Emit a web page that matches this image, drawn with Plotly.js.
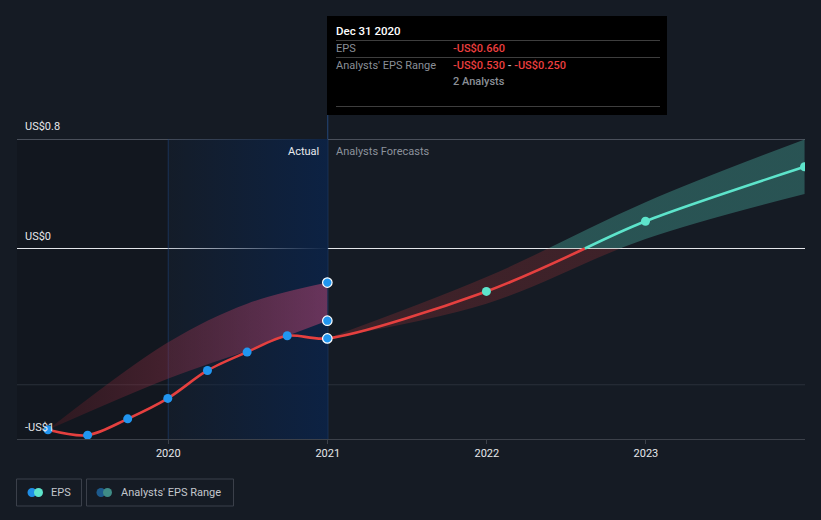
<!DOCTYPE html>
<html>
<head>
<meta charset="utf-8">
<script src="https://cdn.plot.ly/plotly-3.0.1.min.js"></script>
<style>
  html, body { margin: 0; padding: 0; background: #151b24; }
  #chart { width: 821px; height: 520px; }
</style>
</head>
<body>
<div id="chart"></div>
<script>
// ---------------- data ----------------
const actualDates = ['2019-03-31','2019-06-30','2019-09-30','2019-12-31','2020-03-31','2020-06-30','2020-09-30','2020-12-31'];
const actualEps   = [-1.33, -1.37, -1.25, -1.10, -0.895, -0.76, -0.64, -0.66];

const pastRangeDates = ['2019-03-31','2019-12-31','2020-06-30','2020-12-31'];
const pastRangeHigh  = [-1.33, -0.69, -0.405, -0.25];
const pastRangeLow   = [-1.33, -0.955, -0.75, -0.53];

const forecastDates = ['2020-12-31','2021-12-31','2022-12-31','2023-12-31'];
const forecastEps   = [-0.66, -0.315, 0.20, 0.60];
const forecastHigh  = [-0.66, -0.21, 0.34, 0.80];
const forecastLow   = [-0.66, -0.405, 0.07, 0.40];
const forecastZeroCross = '2022-08-14';

const xTickVals = ['2020-01-01','2021-01-01','2022-01-01','2023-01-01'];
const xTickText = ['2020','2021','2022','2023'];
const yTickVals = [0.8, 0, -1];
const yTickText = ['US$0.8','US$0','-US$1'];

const tooltipDate  = 'Dec 31 2020';
const tooltipEps   = '-US$0.660';
const tooltipLow   = '-US$0.530';
const tooltipHigh  = '-US$0.250';
const tooltipCount = '2 Analysts';

const highlightStart = '2020-01-01';
const highlightEnd   = '2021-01-01';
const xRange = ['2019-01-19','2024-01-01'];
const yRange = [-1.3981, 0.80367];

// ---------------- pixel helpers (layout only) ----------------
const L = 17, R = 805, T = 139, B = 439;
const px = x => (x - L) / (R - L);
const py = y => (B - y) / (B - T);

// ---------------- colours ----------------
const RED = '#e5403f';
const TEAL = '#5de4cb';
const BLUE = '#2196f0';

// ---------------- traces ----------------
const traces = [];

// blue "actual year" highlight with horizontal gradient
traces.push({
  x: [highlightStart, highlightEnd, highlightEnd, highlightStart],
  y: [yRange[1], yRange[1], yRange[0], yRange[0]],
  mode: 'none', fill: 'toself', hoverinfo: 'skip', showlegend: false,
  fillcolor: 'rgba(13,35,68,0.6)',
  fillgradient: { type: 'horizontal', colorscale: [[0, 'rgba(13,35,68,0.15)'], [1, 'rgba(12,34,68,0.98)']] }
});

// past analysts range (fan)
traces.push({
  x: pastRangeDates, y: pastRangeLow, mode: 'lines', line: { width: 0, shape: 'spline' },
  hoverinfo: 'skip', showlegend: false
});
traces.push({
  x: pastRangeDates, y: pastRangeHigh, mode: 'lines', line: { width: 0, shape: 'spline' },
  fill: 'tonexty', fillcolor: 'rgba(160,55,85,0.45)',
  fillgradient: { type: 'horizontal', colorscale: [[0, 'rgba(110,30,35,0.30)'], [1, 'rgba(190,70,115,0.52)']] },
  hoverinfo: 'skip', showlegend: false
});

// forecast range
traces.push({
  x: forecastDates, y: forecastLow, mode: 'lines', line: { width: 0, shape: 'spline' },
  hoverinfo: 'skip', showlegend: false
});
traces.push({
  x: forecastDates, y: forecastHigh, mode: 'lines', line: { width: 0, shape: 'spline' },
  fill: 'tonexty', fillcolor: 'rgba(85,215,195,0.3)',
  fillgradient: { type: 'vertical', start: -0.0005, stop: 0.0005,
    colorscale: [[0, 'rgba(225,60,60,0.2)'], [1, 'rgba(88,215,195,0.3)']] },
  hoverinfo: 'skip', showlegend: false
});

// EPS line (red part: actual + forecast until zero)
const redX = actualDates.concat([forecastDates[1], forecastZeroCross]);
const redY = actualEps.concat([forecastEps[1], 0]);
traces.push({
  x: redX, y: redY, mode: 'lines', line: { color: RED, width: 2.6, shape: 'spline', smoothing: 0.9 },
  hoverinfo: 'skip', showlegend: false
});
// EPS line (teal part above zero)
traces.push({
  x: [forecastZeroCross].concat(forecastDates.slice(2)),
  y: [0].concat(forecastEps.slice(2)),
  mode: 'lines', line: { color: TEAL, width: 2.6, shape: 'spline', smoothing: 0.9 },
  hoverinfo: 'skip', showlegend: false
});

// actual markers
traces.push({
  x: actualDates.slice(0, -1), y: actualEps.slice(0, -1), mode: 'markers',
  marker: { color: BLUE, size: 9 }, hoverinfo: 'skip', showlegend: false
});
// last actual + range markers with white outline
traces.push({
  x: [actualDates[actualDates.length - 1], pastRangeDates[pastRangeDates.length - 1], pastRangeDates[pastRangeDates.length - 1]],
  y: [actualEps[actualEps.length - 1], pastRangeLow[pastRangeLow.length - 1], pastRangeHigh[pastRangeHigh.length - 1]],
  mode: 'markers', marker: { color: BLUE, size: 9.5, line: { color: '#ffffff', width: 1.2 } },
  hoverinfo: 'skip', showlegend: false
});
// forecast markers
traces.push({
  x: forecastDates.slice(1), y: forecastEps.slice(1), mode: 'markers',
  marker: { color: TEAL, size: 9 }, hoverinfo: 'skip', showlegend: false, cliponaxis: true
});

// ---------------- shapes ----------------
const shapes = [];
// left darker zone
shapes.push({ type: 'rect', xref: 'x', yref: 'paper', x0: xRange[0], x1: highlightStart, y0: 0, y1: 1,
  fillcolor: 'rgba(0,0,0,0.13)', line: { width: 0 }, layer: 'below' });
// gridlines
const gridColors = ['#4a505b', '#e4e6ea', '#2a303a'];
yTickVals.forEach((v, i) => {
  shapes.push({ type: 'line', xref: 'paper', yref: 'y', x0: 0, x1: 1, y0: v, y1: v,
    line: { color: gridColors[i], width: 1 }, layer: 'below' });
});
// vertical lines
shapes.push({ type: 'line', xref: 'x', yref: 'paper', x0: highlightStart, x1: highlightStart, y0: 0, y1: 1,
  line: { color: 'rgba(35,75,135,0.55)', width: 1 }, layer: 'below' });
shapes.push({ type: 'line', xref: 'x', yref: 'paper', x0: highlightEnd, x1: highlightEnd, y0: 0, y1: py(114),
  line: { color: 'rgba(40,85,150,0.75)', width: 1 }, layer: 'below' });

// tooltip box
shapes.push({ type: 'rect', xref: 'paper', yref: 'paper', x0: px(327), x1: px(667), y0: py(115), y1: py(16),
  fillcolor: '#000000', line: { width: 0 } });
[40.5, 57.5, 106.5].forEach(yy => {
  shapes.push({ type: 'line', xref: 'paper', yref: 'paper', x0: px(336), x1: px(660), y0: py(yy), y1: py(yy),
    line: { color: '#3e3e3e', width: 1 } });
});

// legend boxes
function box(x0, x1) {
  shapes.push({ type: 'rect', xref: 'paper', yref: 'paper', x0: px(x0), x1: px(x1), y0: py(506), y1: py(479),
    fillcolor: 'rgba(0,0,0,0)', line: { color: '#3b404a', width: 1 } });
}
function dot(cx, color) {
  shapes.push({ type: 'circle', xref: 'paper', yref: 'paper', x0: px(cx - 4.5), x1: px(cx + 4.5),
    y0: py(492.5 + 4.5), y1: py(492.5 - 4.5), fillcolor: color, line: { width: 0 } });
}
box(16.5, 81.5); box(86.5, 233.5);
dot(32, '#1f8ee6'); dot(38.5, TEAL);
dot(101, '#1d5a8c'); dot(107.5, '#3f8c86');

// ---------------- annotations ----------------
const ann = [];
const FONT = 'Roboto, "Liberation Sans", Arial, sans-serif';
// y labels
const yLabelPix = [127, 236, 427];
yTickText.forEach((t, i) => {
  ann.push({ text: t, xref: 'paper', yref: 'paper', x: px(23), y: py(yLabelPix[i]), xanchor: 'left', yanchor: 'middle',
    showarrow: false, font: { family: FONT, size: 11, color: '#e6e8eb' } });
});
// Actual / Forecast labels
ann.push({ text: 'Actual', xref: 'paper', yref: 'paper', x: px(321), y: py(151), xanchor: 'right', yanchor: 'middle',
  showarrow: false, font: { family: FONT, size: 11, color: '#e8eaed' } });
ann.push({ text: 'Analysts Forecasts', xref: 'paper', yref: 'paper', x: px(334), y: py(151), xanchor: 'left', yanchor: 'middle',
  showarrow: false, font: { family: FONT, size: 11, color: '#8c929c' } });
// tooltip text
ann.push({ text: tooltipDate, xref: 'paper', yref: 'paper', x: px(333.5), y: py(31), xanchor: 'left', yanchor: 'middle',
  showarrow: false, font: { family: FONT, size: 11.5, color: '#ffffff', weight: 500 } });
ann.push({ text: 'EPS', xref: 'paper', yref: 'paper', x: px(333.5), y: py(48.5), xanchor: 'left', yanchor: 'middle',
  showarrow: false, font: { family: FONT, size: 11, color: '#8a8f97' } });
ann.push({ text: tooltipEps, xref: 'paper', yref: 'paper', x: px(451.5), y: py(48.5), xanchor: 'left', yanchor: 'middle',
  showarrow: false, font: { family: FONT, size: 11, color: '#ec3f3f', weight: 500 } });
ann.push({ text: "Analysts' EPS Range", xref: 'paper', yref: 'paper', x: px(333.5), y: py(65), xanchor: 'left', yanchor: 'middle',
  showarrow: false, font: { family: FONT, size: 11, color: '#8a8f97' } });
ann.push({ text: tooltipLow + ' <span style="color:#b8bcc2">-</span> ' + tooltipHigh, xref: 'paper', yref: 'paper',
  x: px(451.5), y: py(65), xanchor: 'left', yanchor: 'middle',
  showarrow: false, font: { family: FONT, size: 11, color: '#ec3f3f', weight: 500 } });
ann.push({ text: tooltipCount, xref: 'paper', yref: 'paper', x: px(451.5), y: py(81.5), xanchor: 'left', yanchor: 'middle',
  showarrow: false, font: { family: FONT, size: 11, color: '#8a8f97', weight: 500 } });
// legend text
ann.push({ text: 'EPS', xref: 'paper', yref: 'paper', x: px(48.5), y: py(492.5), xanchor: 'left', yanchor: 'middle',
  showarrow: false, font: { family: FONT, size: 11, color: '#c3c7cd' } });
ann.push({ text: "Analysts' EPS Range", xref: 'paper', yref: 'paper', x: px(118.5), y: py(492.5), xanchor: 'left', yanchor: 'middle',
  showarrow: false, font: { family: FONT, size: 11, color: '#c3c7cd' } });

// ---------------- layout ----------------
const layout = {
  width: 821, height: 520,
  paper_bgcolor: '#151b24', plot_bgcolor: '#151b24',
  margin: { l: L, r: 821 - R, t: T, b: 520 - B, pad: 0 },
  showlegend: false,
  font: { family: FONT, color: '#e6e8eb', size: 11 },
  xaxis: {
    type: 'date', range: xRange, tickvals: xTickVals, ticktext: xTickText,
    showgrid: false, zeroline: false, showline: true, linecolor: '#3c414a', linewidth: 1,
    ticks: 'outside', ticklen: 4, tickcolor: '#3c414a', tickwidth: 1,
    tickfont: { family: FONT, size: 11, color: '#e6e8eb' }, fixedrange: true
  },
  yaxis: {
    range: yRange, showgrid: false, zeroline: false, showticklabels: false, showline: false, fixedrange: true
  },
  shapes: shapes,
  annotations: ann,
  hovermode: false
};

Plotly.newPlot('chart', traces, layout, { displayModeBar: false, staticPlot: true });
</script>
</body>
</html>
